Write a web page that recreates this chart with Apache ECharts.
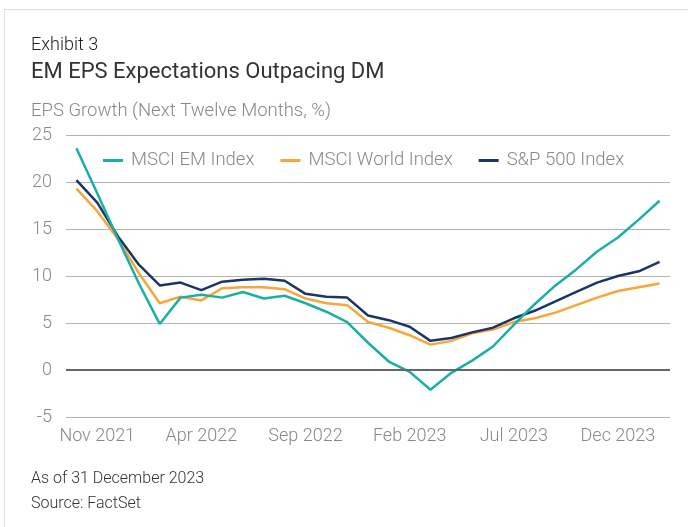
<!DOCTYPE html>
<html>
<head>
<meta charset="utf-8">
<script src="https://cdn.jsdelivr.net/npm/echarts@6/dist/echarts.min.js"></script>
<style>
  html, body { margin: 0; padding: 0; background: #fff; }
  #frame { position: absolute; left: 4px; top: 9px; width: 684px; height: 518px;
           border-top: 1px solid #dcdcdc; border-left: 1px solid #dcdcdc; }
  #chart { position: absolute; left: 0; top: 0; width: 688px; height: 527px; }
</style>
</head>
<body>
<div id="frame"></div>
<div id="chart"></div>
<script>
// categories (monthly points)
var months = ["Oct 2021", "Nov 2021", "Dec 2021", "Jan 2022", "Feb 2022", "Mar 2022", "Apr 2022",
  "May 2022", "Jun 2022", "Jul 2022", "Aug 2022", "Sep 2022", "Oct 2022", "Nov 2022", "Dec 2022",
  "Jan 2023", "Feb 2023", "Mar 2023", "Apr 2023", "May 2023", "Jun 2023", "Jul 2023", "Aug 2023",
  "Sep 2023", "Oct 2023", "Nov 2023", "Dec 2023", "Jan 2024", "Feb 2024"];
var shownLabels = ["Nov 2021", "Apr 2022", "Sep 2022", "Feb 2023", "Jul 2023", "Dec 2023"];

var emData = [23.6, 18.8, 13.9, 9.2, 4.9, 7.7, 8.0, 7.7, 8.3, 7.6, 7.9, 7.1, 6.2, 5.1, 2.9,
  0.9, -0.2, -2.1, -0.3, 1.0, 2.5, 4.8, 7.0, 9.0, 10.7, 12.6, 14.1, 16.0, 18.0];
var worldData = [19.3, 16.9, 13.9, 10.3, 7.1, 7.8, 7.4, 8.7, 8.8, 8.8, 8.6, 7.6, 7.1, 6.9, 5.1,
  4.5, 3.7, 2.7, 3.1, 3.9, 4.3, 5.1, 5.5, 6.1, 6.9, 7.7, 8.4, 8.8, 9.2];
var spData = [20.2, 17.8, 14.2, 11.2, 9.0, 9.3, 8.5, 9.4, 9.6, 9.7, 9.5, 8.1, 7.8, 7.7, 5.8,
  5.3, 4.6, 3.1, 3.4, 4.0, 4.5, 5.5, 6.3, 7.3, 8.3, 9.3, 10.0, 10.5, 11.5];

var chart = echarts.init(document.getElementById('chart'));
var option = {
  animation: false,
  textStyle: { fontFamily: 'Roboto' },
  title: [
    { text: 'Exhibit 3', left: 26, top: 31,
      textStyle: { fontSize: 18, fontWeight: 300, color: '#222', fontFamily: 'Roboto' } },
    { text: 'EM EPS Expectations Outpacing DM', left: 26, top: 56,
      textStyle: { fontSize: 22, fontWeight: 400, color: '#333', fontFamily: 'Roboto' } },
    { text: 'EPS Growth (Next Twelve Months, %)', left: 26, top: 97,
      textStyle: { fontSize: 18.5, fontWeight: 300, color: '#888', fontFamily: 'Roboto' } },
    { text: 'As of 31 December 2023', left: 26, top: 466,
      textStyle: { fontSize: 16, fontWeight: 300, color: '#333', fontFamily: 'Roboto' } },
    { text: 'Source: FactSet', left: 26, top: 491,
      textStyle: { fontSize: 16, fontWeight: 300, color: '#333', fontFamily: 'Roboto' } }
  ],
  legend: {
    left: 98, top: 146,
    icon: 'rect', itemWidth: 20, itemHeight: 3, itemGap: 26,
    textStyle: { fontSize: 18.5, fontWeight: 300, color: '#888', padding: [0, 0, 0, 3] },
    data: ['MSCI EM Index', 'MSCI World Index', 'S&P 500 Index']
  },
  grid: { left: 66, right: 18, top: 135, bottom: 110 },
  xAxis: {
    type: 'category',
    data: months,
    boundaryGap: true,
    axisLine: { show: false },
    axisTick: { show: false },
    axisLabel: {
      margin: 10, fontSize: 18, fontWeight: 300, color: '#888',
      interval: function (i, v) { return shownLabels.indexOf(v) >= 0; }
    }
  },
  yAxis: {
    type: 'value', min: -5, max: 25, interval: 5,
    axisLine: { show: false },
    axisTick: { show: false },
    axisLabel: { margin: 14, fontSize: 18, fontWeight: 300, color: '#888' },
    splitLine: { lineStyle: { color: '#b4b4b4', width: 1.2 } }
  },
  series: [
    { name: 'MSCI EM Index', type: 'line', data: emData, symbol: 'none',
      lineStyle: { width: 2.5, color: '#1aafa6' }, itemStyle: { color: '#1aafa6' },
      markLine: { silent: true, symbol: 'none', label: { show: false },
        lineStyle: { color: '#666', width: 2, type: 'solid' }, data: [{ yAxis: 0 }] },
      z: 3 },
    { name: 'MSCI World Index', type: 'line', data: worldData, symbol: 'none',
      lineStyle: { width: 2.5, color: '#f8a53a' }, itemStyle: { color: '#f8a53a' }, z: 2 },
    { name: 'S&P 500 Index', type: 'line', data: spData, symbol: 'none',
      lineStyle: { width: 2.5, color: '#1c3562' }, itemStyle: { color: '#1c3562' }, z: 2 }
  ]
};
chart.setOption(option);
</script>
</body>
</html>
